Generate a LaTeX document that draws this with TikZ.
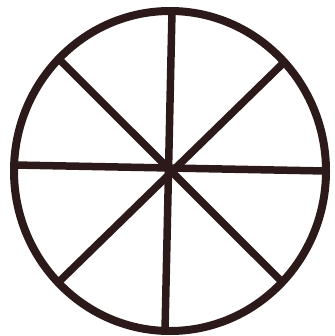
\documentclass[tikz,border=0pt]{standalone}
\definecolor{ink}{RGB}{44,26,26}
\begin{document}
\begin{tikzpicture}[x=1pt,y=-1pt,
  rim/.style={draw=ink,line width=8pt},
  spoke/.style={draw=ink,line width=7.5pt,line cap=butt}]
\useasboundingbox (0,0) rectangle (334,336);
\coordinate (c) at (170,171);
\coordinate (t) at (172,11);
\coordinate (b) at (165,331);
\coordinate (l) at (14,165);
\coordinate (r) at (326,171);
\path (c) ++(-135.5:156 and 160) coordinate (ul);
\path (c) ++(-42.9:156 and 160) coordinate (ur);
\path (c) ++(44:156 and 160) coordinate (lr);
\path (c) ++(135.8:156 and 160) coordinate (ll);
\draw[spoke] (t) -- (b);
\draw[spoke] (l) -- (r);
\draw[spoke] (ul) -- (lr);
\draw[spoke] (ur) -- (ll);
\draw[rim] (c) ellipse [x radius=156, y radius=160];
\end{tikzpicture}
\end{document}
